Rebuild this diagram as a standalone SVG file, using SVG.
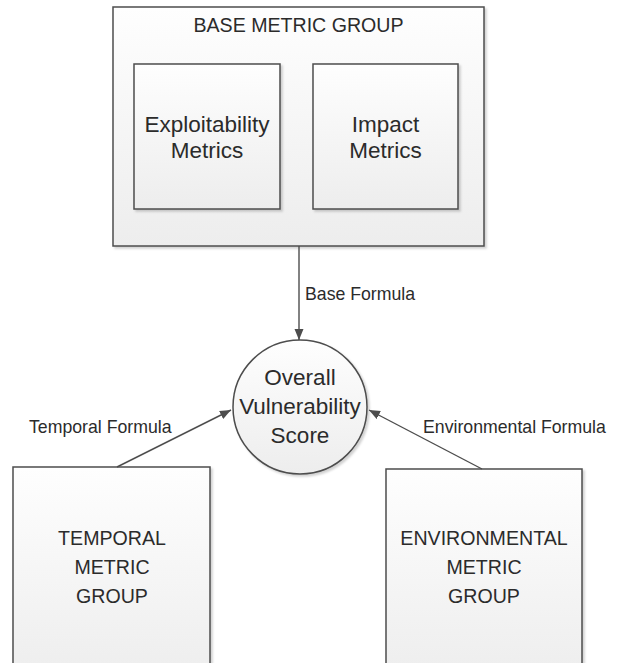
<svg xmlns="http://www.w3.org/2000/svg" width="628" height="663" viewBox="0 0 628 663">
  <style>
    .box { fill: url(#boxFill); stroke: #4d4d4d; stroke-width: 1.5; filter: url(#shadow); }
    .lbl { font-family: "Liberation Sans", Arial, sans-serif; fill: #2b2b2b; text-anchor: middle; }
    .caps { font-size: 19.6px; }
    .mixed { font-size: 22.5px; }
    .edge-lbl { font-family: "Liberation Sans", Arial, sans-serif; fill: #2b2b2b; font-size: 17.7px; }
    .conn { stroke: #4d4d4d; stroke-width: 1.4; fill: none; marker-end: url(#arrow); }
  </style>
  <defs>
    <linearGradient id="boxFill" x1="0" y1="0" x2="0" y2="1">
      <stop offset="0" stop-color="#fefefe"/>
      <stop offset="1" stop-color="#ededed"/>
    </linearGradient>
    <filter id="shadow" x="-5%" y="-5%" width="115%" height="115%">
      <feDropShadow dx="2" dy="2" stdDeviation="1.2" flood-color="#000" flood-opacity="0.18"/>
    </filter>
    <marker id="arrow" markerUnits="userSpaceOnUse" markerWidth="12" markerHeight="10" refX="11" refY="5" orient="auto">
      <path d="M0,0.5 L11,5 L0,9.5 z" fill="#4d4d4d"/>
    </marker>
  </defs>

  <rect width="628" height="663" fill="#ffffff"/>

  <!-- base metric group with its two inner metric boxes -->
  <g id="base-metric-group">
    <rect class="box" x="113" y="7" width="371" height="239"/>
    <text class="lbl caps" x="298.5" y="32">BASE METRIC GROUP</text>
  </g>
  <g id="exploitability-metrics">
    <rect class="box" x="134" y="64" width="146" height="145"/>
    <text class="lbl mixed" x="207" y="132">Exploitability</text>
    <text class="lbl mixed" x="207" y="158">Metrics</text>
  </g>
  <g id="impact-metrics">
    <rect class="box" x="313" y="64" width="145" height="145"/>
    <text class="lbl mixed" x="385.5" y="132">Impact</text>
    <text class="lbl mixed" x="385.5" y="158">Metrics</text>
  </g>

  <!-- central score -->
  <g id="overall-score">
    <circle class="box" cx="300" cy="407" r="67"/>
    <text class="lbl mixed" x="300" y="385">Overall</text>
    <text class="lbl mixed" x="300" y="414">Vulnerability</text>
    <text class="lbl mixed" x="300" y="443">Score</text>
  </g>

  <!-- lower groups (run off the bottom edge) -->
  <g id="temporal-metric-group">
    <rect class="box" x="13" y="467" width="197" height="215"/>
    <text class="lbl caps" x="112" y="545">TEMPORAL</text>
    <text class="lbl caps" x="112" y="574">METRIC</text>
    <text class="lbl caps" x="112" y="603">GROUP</text>
  </g>
  <g id="environmental-metric-group">
    <rect class="box" x="386" y="469" width="196" height="213"/>
    <text class="lbl caps" x="484" y="545">ENVIRONMENTAL</text>
    <text class="lbl caps" x="484" y="574">METRIC</text>
    <text class="lbl caps" x="484" y="603">GROUP</text>
  </g>

  <!-- formulas feeding the score -->
  <g id="connectors">
    <line class="conn" x1="299" y1="246" x2="299" y2="340"/>
    <line class="conn" x1="117" y1="467" x2="231" y2="410"/>
    <line class="conn" x1="482" y1="469" x2="369" y2="410"/>
    <text class="edge-lbl" x="305" y="300">Base Formula</text>
    <text class="edge-lbl" x="29" y="433">Temporal Formula</text>
    <text class="edge-lbl" x="423" y="433">Environmental Formula</text>
  </g>
</svg>
